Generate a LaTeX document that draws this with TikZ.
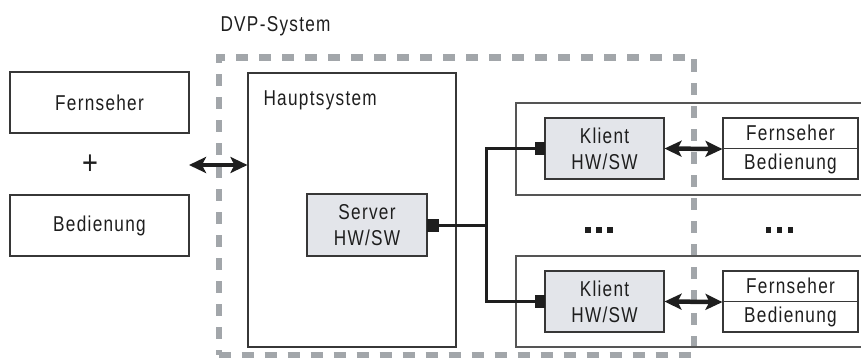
\documentclass[tikz,border=0pt]{standalone}
\usepackage{fontspec}
\setmainfont{Liberation Sans}[FakeStretch=0.8,LetterSpace=6]
\usetikzlibrary{arrows.meta}
\definecolor{dvpgrey}{RGB}{162,166,170}
\definecolor{boxfill}{RGB}{227,229,234}
\definecolor{edgecol}{RGB}{55,55,55}
\definecolor{inkcol}{RGB}{30,30,30}
\begin{document}
\begin{tikzpicture}[x=1pt,y=-1pt,
  every node/.style={text=inkcol, font=\fontsize{21.5}{26}\selectfont},
  box/.style={draw=edgecol, line width=1.1pt, fill=white, inner sep=0pt, align=center},
  greybox/.style={box, fill=boxfill},
  outerbox/.style={draw=edgecol!85, line width=1.1pt, inner sep=0pt},
  plug/.style={fill=inkcol, draw=none, minimum width=10pt, minimum height=13pt, inner sep=0pt},
  link/.style={line width=3pt, draw=inkcol},
  biarrow/.style={line width=4.5pt, draw=inkcol, fill=inkcol,
    {Stealth[length=17pt 0,width=16pt 0,inset=4pt]}-{Stealth[length=17pt 0,width=16pt 0,inset=4pt]}},
  dvp/.style={draw=dvpgrey, line width=6pt, dash pattern=on 12pt off 11pt, inner sep=0pt},
  dotbox/.style={fill=inkcol, draw=none, minimum size=5.5pt, inner sep=0pt}
]
\useasboundingbox (0,0) rectangle (861,361);
\clip (0,0) rectangle (861,361);

% DVP system frame
\node[dvp, minimum width=475.5pt, minimum height=297.5pt] (dvpbox) at (456.25,206.25) {};
\node[anchor=base west] (dvplabel) at (217,32) {DVP-System};

% left: Fernseher + Bedienung
\node[box, minimum width=179pt, minimum height=61pt] (fern) at (99.5,102.5) {Fernseher};
\node[font=\fontsize{34}{34}\selectfont] (plus) at (90,165) {+};
\node[box, minimum width=179pt, minimum height=61pt] (bed) at (99.5,225.5) {Bedienung};

% Hauptsystem
\node[box, fill=none, minimum width=208pt, minimum height=274pt] (haupt) at (352,210) {};
\node[anchor=base west] (hauptlabel) at (260,105) {Hauptsystem};
\node[greybox, minimum width=120pt, minimum height=62pt] (server) at (367,225) {Server\\HW/SW};
\node[plug, minimum width=12pt] (splug) at (433,225) {};

% client frames
\node[outerbox, minimum width=360pt, minimum height=92pt] (outer1) at (696,149) {};
\node[outerbox, minimum width=360pt, minimum height=91pt] (outer2) at (696,301.5) {};

% clients
\node[greybox, minimum width=119pt, minimum height=61pt] (kl1) at (604.5,148.5) {Klient\\HW/SW};
\node[greybox, minimum width=119pt, minimum height=61pt] (kl2) at (604.5,301.5) {Klient\\HW/SW};
\node[plug] (kplug1) at (540,148.5) {};
\node[plug] (kplug2) at (540,301.5) {};

% Fernseher / Bedienung right
\node[box, minimum width=135pt, minimum height=30.5pt] (rf1) at (790.5,133.25) {Fernseher};
\node[box, minimum width=135pt, minimum height=30.5pt] (rb1) at (790.5,163.75) {Bedienung};
\node[box, minimum width=135pt, minimum height=30.5pt] (rf2) at (790.5,286.25) {Fernseher};
\node[box, minimum width=135pt, minimum height=30.5pt] (rb2) at (790.5,316.75) {Bedienung};

% ellipsis dots
\node[dotbox] (d1) at (588,230) {};
\node[dotbox] (d2) at (599,230) {};
\node[dotbox] (d3) at (610,230) {};
\node[dotbox] (d4) at (768.5,230) {};
\node[dotbox] (d5) at (779.5,230) {};
\node[dotbox] (d6) at (790.5,230) {};

% connections
\coordinate (junction) at (486,225);
\draw[link] (splug.east) -- (junction);
\draw[link] (junction) |- (kplug1.west);
\draw[link] (junction) |- (kplug2.west);

\coordinate (leftend) at (189,165);
\draw[biarrow] (leftend) -- (haupt.west |- leftend);
\draw[biarrow] (kl1.east) -- (rf1.south west);
\draw[biarrow] (kl2.east) -- (rf2.south west);
\end{tikzpicture}
\end{document}
